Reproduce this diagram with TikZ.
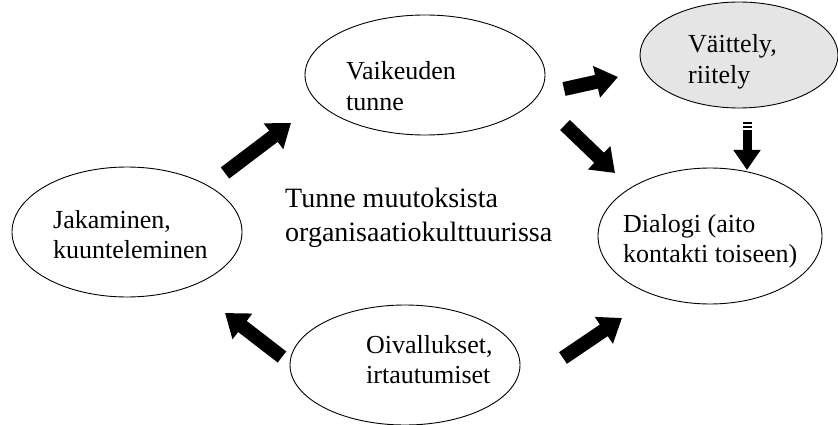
\documentclass[tikz,border=0pt]{standalone}
\usepackage{fontspec}
\setmainfont{Liberation Serif}
\usetikzlibrary{arrows.meta,shapes.geometric}

% two left-aligned lines whose baseline is the first line's
\newcommand\linepair[2]{\vtop{\hbox{#1}\hbox{#2}}}

\begin{document}
\begin{tikzpicture}[x=1pt,y=-1pt,
  bubble/.style={draw=black, line width=0.9pt, ellipse, inner sep=0pt},
  lbl/.style={anchor=base west, inner sep=0pt, font=\fontsize{26}{30.5}\selectfont},
  biglbl/.style={anchor=base west, inner sep=0pt, font=\fontsize{28}{34}\selectfont},
  bigarrow/.style={line width=14pt, -{Triangle[length=22pt,width=31pt]}},
  thinarrow/.style={line width=9pt, -{Triangle[length=20pt,width=26pt]}},
]
\useasboundingbox (0,0) rectangle (838,425);

% ellipses
\node[bubble, minimum width=240pt, minimum height=120pt] (vai) at (425,75) {};
\node[bubble, fill=black!10, minimum width=198pt, minimum height=106pt] (vait) at (739,55) {};
\node[bubble, minimum width=224pt, minimum height=136pt] (dia) at (710,236) {};
\node[bubble, minimum width=230pt, minimum height=130pt] (jak) at (127,232) {};
\node[bubble, minimum width=230pt, minimum height=120pt] (oiv) at (405,365) {};

% texts
\node[lbl] (vaitxt) at (346,80) {\linepair{Vaikeuden}{tunne}};
\node[lbl] (vaittxt) at (688,53) {\linepair{Väittely,}{riitely}};
\node[lbl] (diatxt) at (623,232) {\linepair{Dialogi (aito}{kontakti toiseen)}};
\node[lbl] (jaktxt) at (53,228) {\linepair{Jakaminen,}{kuunteleminen}};
\node[lbl] (oivtxt) at (366,353) {\linepair{Oivallukset,}{irtautumiset}};
\node[biglbl] (center) at (285,207) {\linepair{Tunne muutoksista}{organisaatiokulttuurissa}};

% arrow end points
\coordinate (a1s) at (225,173); \coordinate (a1e) at (291,123);
\coordinate (a2s) at (564,89);  \coordinate (a2e) at (618,77);
\coordinate (a3s) at (565,125); \coordinate (a3e) at (615,173);
\coordinate (a4s) at (747,130); \coordinate (a4e) at (747,170);
\coordinate (a5s) at (282,357); \coordinate (a5e) at (225,313);
\coordinate (a6s) at (563,358); \coordinate (a6e) at (622,318);

% block arrows
\draw[bigarrow] (a1s) -- (a1e);
\draw[bigarrow] (a2s) -- (a2e);
\draw[bigarrow] (a3s) -- (a3e);
\draw[bigarrow] (a5s) -- (a5e);
\draw[bigarrow] (a6s) -- (a6e);

% striped arrow
\fill (742.5,122) rectangle (751.5,124);
\fill (742.5,126) rectangle (751.5,128);
\draw[thinarrow] (a4s) -- (a4e);
\end{tikzpicture}
\end{document}
